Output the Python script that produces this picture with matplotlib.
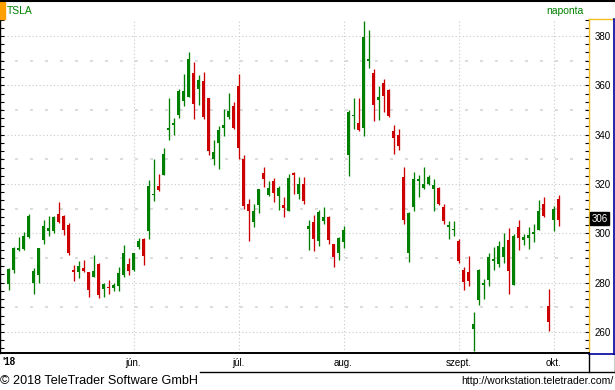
import matplotlib
matplotlib.use('Agg')
import matplotlib.pyplot as plt
from matplotlib.lines import Line2D
from matplotlib.patches import Rectangle
from matplotlib.ticker import MultipleLocator, FixedLocator
import matplotlib.transforms as mtransforms

plt.rcParams['font.family'] = ['Liberation Sans', 'DejaVu Sans']

# ---- data (TSLA daily, 2018-04-26 .. 2018-10-02) ----
opens = [279.5, 285.0, 293.3, 293.5, 298.5, 279.9, 283.1, 297.2, 300.9, 300.9,
         308.0, 307.2, 303.2, 285.0, 284.2, 285.8, 284.2, 282.2, 287.4, 277.3,
         278.1, 277.7, 278.5, 283.0, 287.5, 285.1, 294.3, 297.9, 300.9, 315.4,
         319.0, 323.5, 341.8, 343.9, 347.8, 353.5, 355.1, 364.9, 358.4, 361.6,
         354.7, 330.0, 336.5, 342.6, 347.0, 351.5, 359.6, 330.1, 312.1, 304.5,
         311.3, 324.5, 315.7, 321.3, 315.3, 311.3, 308.9, 324.5, 316.1, 320.1,
         301.7, 304.5, 296.9, 304.9, 306.5, 295.7, 292.1, 296.5, 331.7, 347.5,
         344.7, 342.7, 370.0, 365.0, 354.0, 360.9, 358.1, 341.4, 339.8, 322.8,
         291.9, 310.6, 321.3, 318.3, 319.9, 317.9, 318.3, 310.6, 302.5, 301.2,
         297.1, 285.3, 284.5, 261.4, 273.1, 279.2, 281.2, 288.9, 287.7, 290.5,
         297.4, 279.2, 302.7, 297.4, 298.2, 299.9, 301.5, 312.0, 270.7, 305.5,
         314.1]
highs = [285.9, 294.3, 298.7, 300.7, 308.0, 285.8, 293.9, 305.6, 307.2, 307.2,
         312.6, 307.6, 304.4, 287.0, 288.6, 289.0, 284.4, 291.4, 287.8, 279.7,
         280.9, 279.7, 286.2, 295.1, 290.0, 292.0, 298.2, 298.2, 321.8, 330.0,
         323.9, 334.6, 354.7, 346.6, 358.4, 364.6, 373.4, 369.3, 364.1, 365.3,
         354.7, 337.7, 343.4, 350.3, 356.8, 353.1, 364.5, 331.7, 314.1, 311.7,
         318.1, 326.9, 321.3, 322.5, 319.3, 314.9, 324.1, 324.9, 322.9, 322.9,
         305.3, 307.3, 309.3, 310.5, 306.9, 295.7, 298.5, 302.9, 350.0, 354.8,
         354.8, 386.0, 382.4, 366.6, 359.7, 362.5, 358.5, 343.9, 342.2, 326.8,
         308.6, 324.8, 323.6, 326.8, 323.6, 321.9, 318.7, 311.8, 304.9, 304.9,
         297.8, 286.5, 290.9, 268.2, 285.7, 281.6, 292.2, 294.6, 297.0, 300.3,
         302.3, 299.9, 305.5, 299.9, 302.7, 303.9, 313.6, 314.9, 277.6, 311.2,
         315.7]
lows = [277.0, 283.9, 292.8, 293.1, 298.0, 275.3, 279.9, 295.5, 298.9, 300.1,
        304.0, 299.3, 291.4, 280.5, 281.8, 284.2, 274.1, 282.2, 273.7, 274.1,
        275.3, 276.5, 276.5, 282.3, 283.0, 284.7, 293.6, 287.0, 297.6, 313.3,
        317.0, 323.5, 337.7, 339.7, 346.6, 351.5, 355.1, 346.2, 351.9, 346.2,
        331.6, 327.6, 326.0, 339.3, 346.2, 342.2, 330.0, 309.7, 296.9, 302.5,
        308.1, 318.9, 315.3, 312.9, 309.3, 306.5, 308.9, 316.1, 314.1, 311.7,
        293.3, 292.9, 294.9, 303.7, 295.7, 286.5, 289.3, 294.1, 323.3, 342.4,
        341.6, 339.4, 367.0, 345.5, 345.9, 349.1, 347.1, 332.1, 333.7, 303.7,
        288.3, 309.0, 314.6, 317.9, 319.5, 309.0, 311.4, 303.7, 297.6, 298.8,
        287.8, 277.2, 278.8, 252.5, 271.1, 273.5, 278.8, 285.3, 286.5, 288.1,
        275.5, 279.2, 293.4, 295.4, 293.8, 296.6, 301.5, 306.8, 260.5, 301.1,
        303.1]
closes = [285.4, 293.9, 293.9, 299.1, 307.2, 284.6, 293.9, 302.8, 302.0, 306.8,
          304.8, 301.3, 291.9, 284.2, 286.6, 284.6, 276.9, 284.6, 274.9, 279.3,
          277.8, 278.9, 283.8, 292.0, 284.7, 292.0, 296.8, 291.0, 319.3, 316.0,
          317.4, 332.0, 342.6, 344.7, 357.6, 357.6, 370.5, 352.3, 362.0, 347.0,
          333.2, 332.8, 341.8, 343.8, 349.5, 342.6, 334.8, 310.9, 308.9, 308.9,
          318.1, 322.1, 318.5, 316.5, 318.5, 310.1, 322.5, 323.7, 320.1, 313.3,
          302.9, 297.7, 308.5, 306.5, 297.3, 290.5, 298.1, 301.3, 349.1, 348.1,
          341.8, 379.6, 370.4, 352.0, 355.2, 355.6, 347.5, 338.6, 335.3, 305.3,
          308.1, 321.9, 321.5, 319.9, 322.8, 319.5, 311.8, 304.9, 303.3, 301.6,
          288.9, 280.4, 280.8, 263.4, 285.3, 279.6, 290.5, 289.3, 295.0, 294.6,
          284.9, 299.1, 298.2, 298.6, 299.5, 300.7, 309.2, 307.2, 264.2, 310.0,
          305.5]
month_labels = ["jún.", "júl.", "aug.", "szept.", "okt."]
month_idx = [25, 46, 67, 90, 109]
year_label = "'18"
y_ticks = [260, 280, 300, 320, 340, 360, 380]
y_half = [270, 290, 310, 330, 350, 370]
last_label = "306"

GREEN = '#008000'
RED = '#cc0000'
GRID = '#c8c8c8'

W, H = 615, 390
fig = plt.figure(figsize=(W / 100, H / 100), dpi=100)
fig.patch.set_facecolor('white')

def fx(px):
    return px / W

def fy(py):
    return 1 - py / H

ax_l, ax_r, ax_t, ax_b = 0, 589, 19, 353
ax = fig.add_axes([fx(ax_l), fy(ax_b), (ax_r - ax_l) / W, (ax_b - ax_t) / H])

n = len(opens)
xs = list(range(n))

# grid
for v in y_ticks:
    ax.axhline(v, color=GRID, lw=0.8, ls=(0, (1, 2.2)), zorder=0)
for v in y_half:
    ax.axhline(v, color='#d6d6d6', lw=1.2, ls=(0, (1.8, 7.2)), zorder=0)
for i in month_idx:
    ax.axvline(i, color=GRID, lw=0.8, ls=(0, (1, 2.2)), zorder=0)

# candles
for i in xs:
    o, h, l, c = opens[i], highs[i], lows[i], closes[i]
    col = GREEN if c >= o else RED
    ax.vlines(i, l, h, color=col, lw=0.95, zorder=2)
    lo = min(o, c)
    hgt = max(abs(c - o), 0.55)
    ax.bar(i, hgt, bottom=lo, width=0.78, color=col, linewidth=0, zorder=3)

# candle i is centred on pixel column 8.5 + 5*i
ax.set_xlim((ax_l - 8.5) / 5, (ax_r - 8.5) / 5)
ax.set_ylim(380 - (ax_b - 36) / 2.467, 380 + (36 - ax_t) / 2.467)

ax.yaxis.set_major_locator(FixedLocator(y_ticks))
ax.yaxis.set_minor_locator(MultipleLocator(20 / 6))
ax.tick_params(axis='y', which='both', direction='in', left=True, right=True,
               labelleft=False, labelright=True, length=3, width=0.8,
               color='black', labelsize=7, pad=4)
ax.set_xticks(month_idx)
ax.set_xticklabels(month_labels)
ax.tick_params(axis='x', which='both', length=0, labelsize=7, pad=3.5)

ax.spines['top'].set_visible(False)
ax.spines['left'].set_color('black')
ax.spines['left'].set_linewidth(1.0)
ax.spines['bottom'].set_color('black')
ax.spines['bottom'].set_linewidth(1.4)
ax.spines['right'].set_color('#f0c020')
ax.spines['right'].set_linewidth(1.0)

# last price tag
trans = mtransforms.blended_transform_factory(ax.transAxes, ax.transData)
ax.text(1.004, 305.9, last_label, transform=trans, color='white', fontsize=7,
        va='center', ha='left', zorder=10, clip_on=False,
        bbox=dict(boxstyle='square,pad=0.15', fc='black', ec='black'))

# frame elements
def fline(x0, y0, x1, y1, color='black', lw=1.0):
    fig.add_artist(Line2D([fx(x0), fx(x1)], [fy(y0), fy(y1)], color=color, lw=lw))

fline(0, 0.8, 615, 0.8, lw=1.5)
fline(589, ax_t, 613.5, ax_t, color='#f0c020', lw=1.0)
fline(613.5, ax_t, 613.5, 354, color='#0000a0', lw=1.2)
fline(589, 354, 614, 354, color='#0000a0', lw=1.2)
fline(200, 372, 615, 372, lw=1.0)
fline(589, 354, 589, 372, lw=1.0)
fline(614.5, 354, 614.5, 372, lw=1.0)
fig.add_artist(Rectangle((fx(0), fy(19)), fx(5), 17 / H, color='#ffa000'))

fig.text(fx(7), fy(10.5), 'TSLA', color=GREEN, fontsize=7.5, va='center', ha='left')
fig.text(fx(584), fy(10.5), 'naponta', color=GREEN, fontsize=7.5, va='center', ha='right')
fig.text(fx(2), fy(362), year_label, fontsize=7, fontweight='bold', va='center', ha='left')
fig.text(fx(0), fy(381.5), '© 2018 TeleTrader Software GmbH', fontsize=9.1,
         va='center', ha='left')
fig.text(fx(613), fy(381.5), 'http://workstation.teletrader.com/', fontsize=7.6,
         va='center', ha='right')

fig.savefig('out.png', dpi=100)
